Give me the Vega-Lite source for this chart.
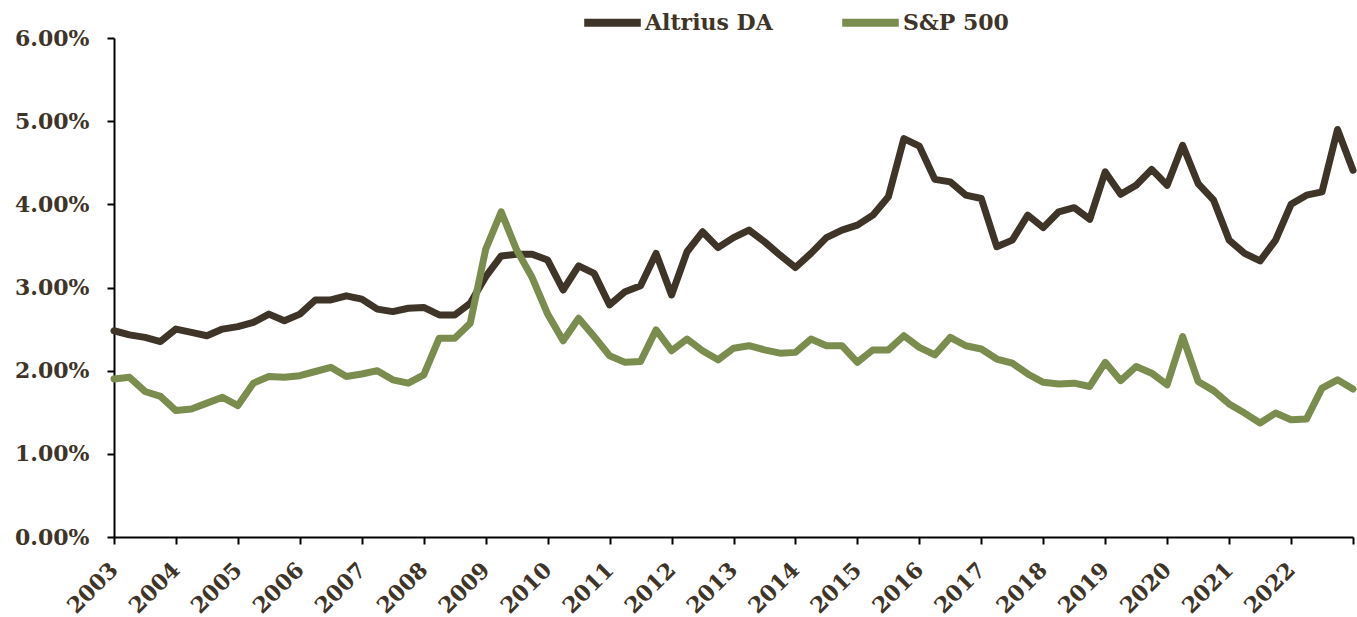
{
  "$schema": "https://vega.github.io/schema/vega-lite/v6.json",
  "width": 1239,
  "height": 499,
  "autosize": "none",
  "padding": {"left": 114, "top": 38, "right": 4, "bottom": 80},
  "background": "white",
  "config": {
    "font": "DejaVu Serif",
    "view": {"stroke": null}
  },
  "data": {
    "values": [
      {"q": 2003.00, "Altrius DA": 2.48, "S&P 500": 1.90},
      {"q": 2003.25, "Altrius DA": 2.43, "S&P 500": 1.92},
      {"q": 2003.50, "Altrius DA": 2.40, "S&P 500": 1.75},
      {"q": 2003.75, "Altrius DA": 2.35, "S&P 500": 1.69},
      {"q": 2004.00, "Altrius DA": 2.50, "S&P 500": 1.52},
      {"q": 2004.25, "Altrius DA": 2.46, "S&P 500": 1.54},
      {"q": 2004.50, "Altrius DA": 2.42, "S&P 500": 1.61},
      {"q": 2004.75, "Altrius DA": 2.50, "S&P 500": 1.68},
      {"q": 2005.00, "Altrius DA": 2.53, "S&P 500": 1.58},
      {"q": 2005.25, "Altrius DA": 2.58, "S&P 500": 1.85},
      {"q": 2005.50, "Altrius DA": 2.68, "S&P 500": 1.93},
      {"q": 2005.75, "Altrius DA": 2.60, "S&P 500": 1.92},
      {"q": 2006.00, "Altrius DA": 2.68, "S&P 500": 1.94},
      {"q": 2006.25, "Altrius DA": 2.85, "S&P 500": 1.99},
      {"q": 2006.50, "Altrius DA": 2.85, "S&P 500": 2.04},
      {"q": 2006.75, "Altrius DA": 2.90, "S&P 500": 1.93},
      {"q": 2007.00, "Altrius DA": 2.86, "S&P 500": 1.96},
      {"q": 2007.25, "Altrius DA": 2.74, "S&P 500": 2.00},
      {"q": 2007.50, "Altrius DA": 2.71, "S&P 500": 1.89},
      {"q": 2007.75, "Altrius DA": 2.75, "S&P 500": 1.85},
      {"q": 2008.00, "Altrius DA": 2.76, "S&P 500": 1.95},
      {"q": 2008.25, "Altrius DA": 2.67, "S&P 500": 2.39},
      {"q": 2008.50, "Altrius DA": 2.67, "S&P 500": 2.39},
      {"q": 2008.75, "Altrius DA": 2.81, "S&P 500": 2.57},
      {"q": 2009.00, "Altrius DA": 3.13, "S&P 500": 3.46},
      {"q": 2009.25, "Altrius DA": 3.38, "S&P 500": 3.91},
      {"q": 2009.50, "Altrius DA": 3.40, "S&P 500": 3.45},
      {"q": 2009.75, "Altrius DA": 3.40, "S&P 500": 3.12},
      {"q": 2010.00, "Altrius DA": 3.33, "S&P 500": 2.68},
      {"q": 2010.25, "Altrius DA": 2.97, "S&P 500": 2.36},
      {"q": 2010.50, "Altrius DA": 3.26, "S&P 500": 2.63},
      {"q": 2010.75, "Altrius DA": 3.17, "S&P 500": 2.41},
      {"q": 2011.00, "Altrius DA": 2.79, "S&P 500": 2.18},
      {"q": 2011.25, "Altrius DA": 2.95, "S&P 500": 2.10},
      {"q": 2011.50, "Altrius DA": 3.02, "S&P 500": 2.11},
      {"q": 2011.75, "Altrius DA": 3.41, "S&P 500": 2.49},
      {"q": 2012.00, "Altrius DA": 2.91, "S&P 500": 2.24},
      {"q": 2012.25, "Altrius DA": 3.43, "S&P 500": 2.38},
      {"q": 2012.50, "Altrius DA": 3.67, "S&P 500": 2.24},
      {"q": 2012.75, "Altrius DA": 3.48, "S&P 500": 2.13},
      {"q": 2013.00, "Altrius DA": 3.60, "S&P 500": 2.27},
      {"q": 2013.25, "Altrius DA": 3.69, "S&P 500": 2.30},
      {"q": 2013.50, "Altrius DA": 3.55, "S&P 500": 2.25},
      {"q": 2013.75, "Altrius DA": 3.39, "S&P 500": 2.21},
      {"q": 2014.00, "Altrius DA": 3.24, "S&P 500": 2.22},
      {"q": 2014.25, "Altrius DA": 3.41, "S&P 500": 2.38},
      {"q": 2014.50, "Altrius DA": 3.60, "S&P 500": 2.30},
      {"q": 2014.75, "Altrius DA": 3.69, "S&P 500": 2.30},
      {"q": 2015.00, "Altrius DA": 3.75, "S&P 500": 2.10},
      {"q": 2015.25, "Altrius DA": 3.87, "S&P 500": 2.25},
      {"q": 2015.50, "Altrius DA": 4.09, "S&P 500": 2.25},
      {"q": 2015.75, "Altrius DA": 4.79, "S&P 500": 2.42},
      {"q": 2016.00, "Altrius DA": 4.70, "S&P 500": 2.28},
      {"q": 2016.25, "Altrius DA": 4.30, "S&P 500": 2.19},
      {"q": 2016.50, "Altrius DA": 4.27, "S&P 500": 2.40},
      {"q": 2016.75, "Altrius DA": 4.11, "S&P 500": 2.30},
      {"q": 2017.00, "Altrius DA": 4.07, "S&P 500": 2.26},
      {"q": 2017.25, "Altrius DA": 3.49, "S&P 500": 2.14},
      {"q": 2017.50, "Altrius DA": 3.57, "S&P 500": 2.09},
      {"q": 2017.75, "Altrius DA": 3.87, "S&P 500": 1.96},
      {"q": 2018.00, "Altrius DA": 3.72, "S&P 500": 1.86},
      {"q": 2018.25, "Altrius DA": 3.91, "S&P 500": 1.84},
      {"q": 2018.50, "Altrius DA": 3.96, "S&P 500": 1.85},
      {"q": 2018.75, "Altrius DA": 3.82, "S&P 500": 1.81},
      {"q": 2019.00, "Altrius DA": 4.39, "S&P 500": 2.10},
      {"q": 2019.25, "Altrius DA": 4.12, "S&P 500": 1.88},
      {"q": 2019.50, "Altrius DA": 4.23, "S&P 500": 2.05},
      {"q": 2019.75, "Altrius DA": 4.42, "S&P 500": 1.97},
      {"q": 2020.00, "Altrius DA": 4.23, "S&P 500": 1.83},
      {"q": 2020.25, "Altrius DA": 4.71, "S&P 500": 2.41},
      {"q": 2020.50, "Altrius DA": 4.25, "S&P 500": 1.87},
      {"q": 2020.75, "Altrius DA": 4.05, "S&P 500": 1.76},
      {"q": 2021.00, "Altrius DA": 3.57, "S&P 500": 1.60},
      {"q": 2021.25, "Altrius DA": 3.41, "S&P 500": 1.49},
      {"q": 2021.50, "Altrius DA": 3.32, "S&P 500": 1.37},
      {"q": 2021.75, "Altrius DA": 3.57, "S&P 500": 1.49},
      {"q": 2022.00, "Altrius DA": 4.00, "S&P 500": 1.41},
      {"q": 2022.25, "Altrius DA": 4.11, "S&P 500": 1.42},
      {"q": 2022.50, "Altrius DA": 4.15, "S&P 500": 1.79},
      {"q": 2022.75, "Altrius DA": 4.90, "S&P 500": 1.89},
      {"q": 2023.00, "Altrius DA": 4.41, "S&P 500": 1.78}
    ]
  },
  "transform": [
    {"fold": ["Altrius DA", "S&P 500"], "as": ["series", "value"]}
  ],
  "mark": {"type": "line", "strokeWidth": 7, "strokeJoin": "round", "strokeCap": "round"},
  "encoding": {
    "x": {
      "field": "q",
      "type": "quantitative",
      "scale": {"domain": [2003, 2023], "nice": false, "zero": false},
      "axis": {
        "title": null,
        "values": [2003, 2004, 2005, 2006, 2007, 2008, 2009, 2010, 2011, 2012, 2013, 2014, 2015, 2016, 2017, 2018, 2019, 2020, 2021, 2022, 2023],
        "labelExpr": "datum.value == 2023 ? '' : format(datum.value, 'd')",
        "labelAngle": -45,
        "labelAlign": "right",
        "labelBaseline": "middle",
        "labelFontSize": 22,
        "labelFontWeight": "bold",
        "labelColor": "#3e3427",
        "labelPadding": 22,
        "labelDx": 3,
        "labelOverlap": false,
        "labelFlush": false,
        "domainColor": "#000000",
        "domainWidth": 2,
        "tickColor": "#000000",
        "tickWidth": 2,
        "tickSize": 7,
        "grid": false
      }
    },
    "y": {
      "field": "value",
      "type": "quantitative",
      "scale": {"domain": [0, 6], "nice": false},
      "axis": {
        "title": null,
        "values": [0, 1, 2, 3, 4, 5, 6],
        "labelExpr": "format(datum.value, '.2f') + '%'",
        "labelFontSize": 22,
        "labelFontWeight": "bold",
        "labelColor": "#3e3427",
        "labelPadding": 18,
        "domainColor": "#000000",
        "domainWidth": 2,
        "tickColor": "#000000",
        "tickWidth": 2,
        "tickSize": 7,
        "grid": false
      }
    },
    "color": {
      "field": "series",
      "type": "nominal",
      "scale": {"domain": ["Altrius DA", "S&P 500"], "range": ["#3e3427", "#7b8c4f"]},
      "legend": {
        "title": null,
        "orient": "none",
        "direction": "horizontal",
        "legendX": 466,
        "legendY": -48,
        "symbolType": "stroke",
        "symbolStrokeWidth": 8,
        "symbolSize": 3200,
        "labelFontSize": 22,
        "labelFontWeight": "bold",
        "labelColor": "#3e3427",
        "labelOffset": 0,
        "columnPadding": 53
      }
    }
  }
}
